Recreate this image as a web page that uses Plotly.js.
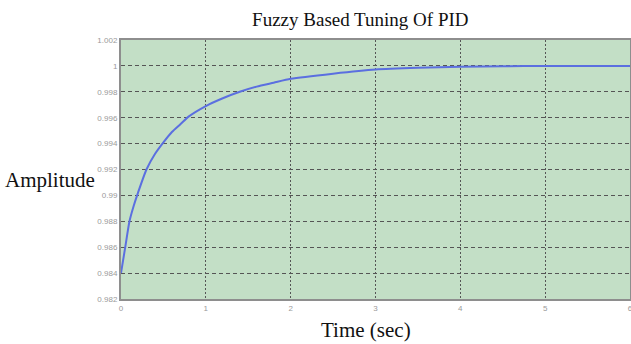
<!DOCTYPE html>
<html>
<head>
<meta charset="utf-8">
<script src="https://cdn.plot.ly/plotly-3.0.1.min.js"></script>
<style>
  html, body { margin: 0; padding: 0; background: #fff; }
  #chart { width: 631px; height: 344px; }
</style>
</head>
<body>
<div id="chart"></div>
<script>
// Step response of the fuzzy-tuned PID loop
const timeSec = [0, 0.05, 0.1, 0.15, 0.2, 0.3, 0.4, 0.5, 0.6, 0.7, 0.8, 1.0, 1.2, 1.4, 1.6, 1.8, 2.0, 2.5, 3.0, 3.5, 4.0, 4.5, 5.0, 5.5, 6.0];
const amplitude = [0.984, 0.986, 0.988, 0.9892, 0.9902, 0.992, 0.9932, 0.9941, 0.9949, 0.9955, 0.9961, 0.9969, 0.9975, 0.998, 0.9984, 0.9987, 0.999, 0.9994, 0.99972, 0.99985, 0.99993, 0.99997, 1.0, 1.0, 1.0];

const xTicks = [0, 1, 2, 3, 4, 5, 6];
const yTicks = [0.982, 0.984, 0.986, 0.988, 0.99, 0.992, 0.994, 0.996, 0.998, 1, 1.002];
const yTickText = ['0.982', '0.984', '0.986', '0.988', '0.99', '0.992', '0.994', '0.996', '0.998', '1', '1.002'];

const serif = 'Liberation Serif, Times New Roman, serif';

const trace = {
  x: timeSec,
  y: amplitude,
  type: 'scatter',
  mode: 'lines',
  line: { color: '#5b6fe0', width: 2, shape: 'spline', smoothing: 0.6 },
  hoverinfo: 'skip'
};

const axisCommon = {
  showgrid: true,
  gridcolor: '#555555',
  gridwidth: 1,
  showline: true,
  mirror: true,
  linecolor: '#8e8e8e',
  linewidth: 2,
  zeroline: false,
  ticks: '',
  ticklabeloverflow: 'allow',
  tickfont: { family: 'Liberation Sans, Arial, sans-serif', size: 8, color: '#9a9a9a' }
};

const layout = {
  width: 631,
  height: 344,
  margin: { l: 121, r: 1, t: 40, b: 45 },
  paper_bgcolor: '#ffffff',
  plot_bgcolor: '#c3dfc6',
  showlegend: false,
  title: {
    text: 'Fuzzy Based Tuning Of PID',
    font: { family: serif, size: 19, color: '#111' },
    x: 0.571, xanchor: 'center',
    y: 0.945, yanchor: 'middle'
  },
  xaxis: Object.assign({}, axisCommon, {
    range: [0, 6],
    tickvals: xTicks,
    ticktext: xTicks.map(String),
    griddash: '2px,2px'
  }),
  yaxis: Object.assign({}, axisCommon, {
    range: [0.982, 1.002],
    tickvals: yTicks,
    ticktext: yTickText,
    griddash: '4px,3px'
  }),
  annotations: [
    {
      text: 'Amplitude',
      xref: 'paper', yref: 'paper',
      x: -0.231, y: 0.46,
      xanchor: 'left', yanchor: 'middle',
      showarrow: false,
      font: { family: serif, size: 21, color: '#111' }
    },
    {
      text: 'Time (sec)',
      xref: 'paper', yref: 'paper',
      x: 0.482, y: -0.118,
      xanchor: 'center', yanchor: 'middle',
      showarrow: false,
      font: { family: serif, size: 21, color: '#111' }
    }
  ]
};

Plotly.newPlot('chart', [trace], layout, { displayModeBar: false, staticPlot: true });
</script>
</body>
</html>
